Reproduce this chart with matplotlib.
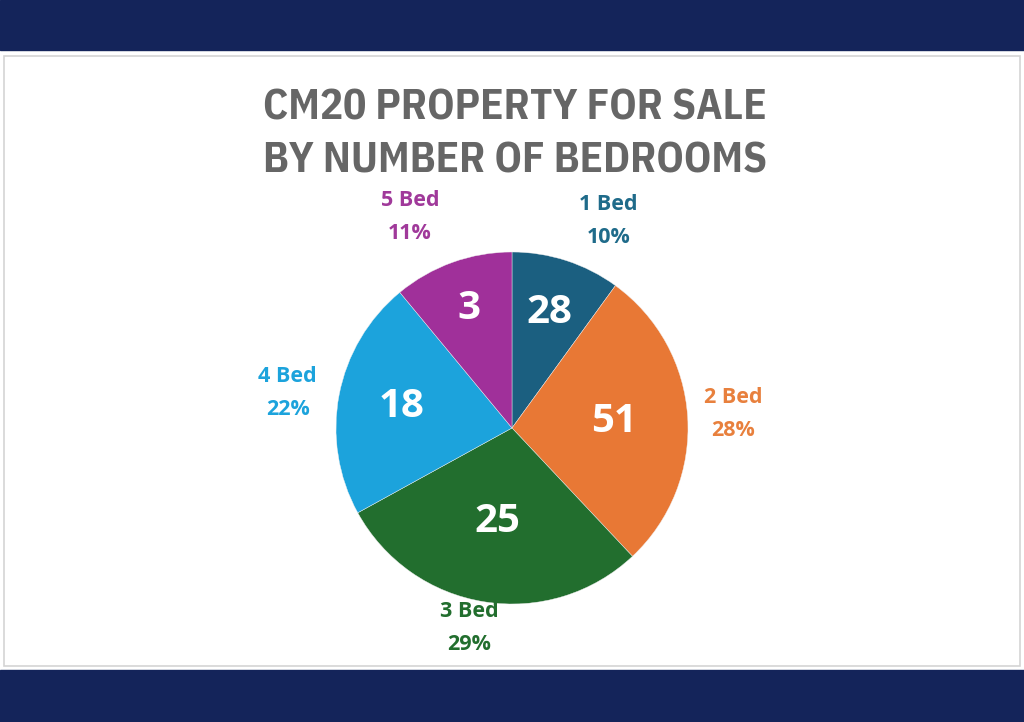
import numpy as np
import matplotlib.pyplot as plt
from matplotlib.patches import Rectangle

# Data
categories = ['1 Bed', '2 Bed', '3 Bed', '4 Bed', '5 Bed']
shares = [10, 28, 29, 22, 11]           # percent of listings
counts = [28, 51, 25, 18, 3]            # numbers printed inside slices
colors = ['#1b5f80', '#e87835', '#226e2e', '#1ca3dc', '#a0309a']
label_colors = ['#1f6b8a', '#e8803d', '#226e2e', '#1ca3dc', '#a0399a']

# label placement (fraction of radius)
inner_r = [0.69, 0.58, 0.54, 0.64, 0.72]
outer_r = [1.30, 1.26, 1.16, 1.29, 1.33]
outer_shift = [-7, 0, -3, 2, 6]          # degrees

title_font = ['IBM Plex Sans Condensed', 'Roboto Condensed', 'DejaVu Sans']
body_font = ['Open Sans', 'DejaVu Sans']

W, H = 1024, 722
fig = plt.figure(figsize=(W / 100, H / 100), dpi=100)
fig.patch.set_facecolor('white')

# navy header / footer bands and the white card
navy = '#14245a'
fig.patches.append(Rectangle((0, 1 - 50 / H), 1, 50 / H, transform=fig.transFigure,
                             color=navy, zorder=0))
fig.patches.append(Rectangle((0, 0), 1, 52 / H, transform=fig.transFigure,
                             color=navy, zorder=0))
fig.patches.append(Rectangle((4 / W, 56 / H), 1016 / W, 610 / H, transform=fig.transFigure,
                             facecolor='white', edgecolor='#d4d4d4', lw=1.2, zorder=0))

# title
fig.text(515 / W, 1 - 108 / H, 'CM20 PROPERTY FOR SALE', ha='center', va='center',
         fontsize=31, fontweight='bold', color='#666666', family=title_font)
fig.text(515 / W, 1 - 161 / H, 'BY NUMBER OF BEDROOMS', ha='center', va='center',
         fontsize=31, fontweight='bold', color='#666666', family=title_font)

# pie axes: centre (512, 428) px, radius 176 px
cx, cy, R = 512, 428, 176
ax = fig.add_axes([(cx - R) / W, (H - cy - R) / H, 2 * R / W, 2 * R / H])
ax.set_zorder(5)
wedges, _ = ax.pie(shares, colors=colors, startangle=90, counterclock=False,
                   radius=1, wedgeprops=dict(linewidth=0.3, edgecolor='#f0f0f0'))
ax.set_xlim(-1, 1)
ax.set_ylim(-1, 1)
ax.set_aspect('equal')
ax.axis('off')

for i, w in enumerate(wedges):
    mid = np.deg2rad((w.theta1 + w.theta2) / 2)
    ax.text(inner_r[i] * np.cos(mid), inner_r[i] * np.sin(mid), str(counts[i]),
            ha='center', va='center', fontsize=29, fontweight='bold',
            color='white', family=body_font)
    a = mid + np.deg2rad(outer_shift[i])
    ax.text(outer_r[i] * np.cos(a), outer_r[i] * np.sin(a),
            f'{categories[i]}\n{shares[i]}%', ha='center', va='center',
            fontsize=15.5, fontweight='bold', color=label_colors[i],
            family=body_font, linespacing=1.75, clip_on=False)

fig.savefig('out.png', dpi=100)
